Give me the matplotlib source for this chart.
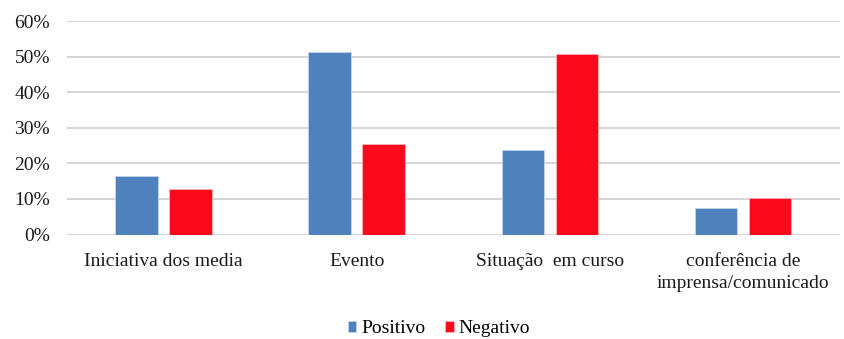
import numpy as np
import matplotlib.pyplot as plt
from matplotlib.ticker import PercentFormatter

categories = ["Iniciativa dos media", "Evento", "Situação  em curso",
              "conferência de\nimprensa/comunicado"]
positivo = [16.5, 51.3, 23.8, 7.5]
negativo = [12.8, 25.4, 50.8, 10.2]

plt.rcParams['font.family'] = ['Liberation Serif', 'DejaVu Serif']

fig = plt.figure(figsize=(8.44, 3.39), dpi=100)
ax = fig.add_axes([0.079, 0.308, 0.916, 0.63])

x = np.arange(len(categories))
w = 0.22
ax.bar(x - 0.14, positivo, w, color='#4f81bd', label='Positivo',
       edgecolor='#c5d4ea', linewidth=0.6, zorder=3)
ax.bar(x + 0.14, negativo, w, color='#fc0a1b', label='Negativo',
       edgecolor='#fdb3b8', linewidth=0.6, zorder=3)

ax.set_xlim(-0.5, 3.5)
ax.set_ylim(0, 60)
ax.set_yticks(np.arange(0, 61, 10))
ax.yaxis.set_major_formatter(PercentFormatter(decimals=0))
ax.grid(axis='y', color='#d6d6d6', linewidth=1.5, zorder=0)
for s in ax.spines.values():
    s.set_visible(False)
ax.tick_params(axis='both', length=0, labelsize=14, colors='#1a1a1a')
ax.tick_params(axis='y', pad=12)
ax.tick_params(axis='x', pad=13)
ax.set_xticks(x)
ax.set_xticklabels(categories, linespacing=1.45)

fig.legend(loc='center', bbox_to_anchor=(0.52, 0.03), ncol=2,
           frameon=False, fontsize=14, handlelength=0.45, handleheight=0.45,
           handletextpad=0.25, columnspacing=1.0)

fig.savefig('out.png')
